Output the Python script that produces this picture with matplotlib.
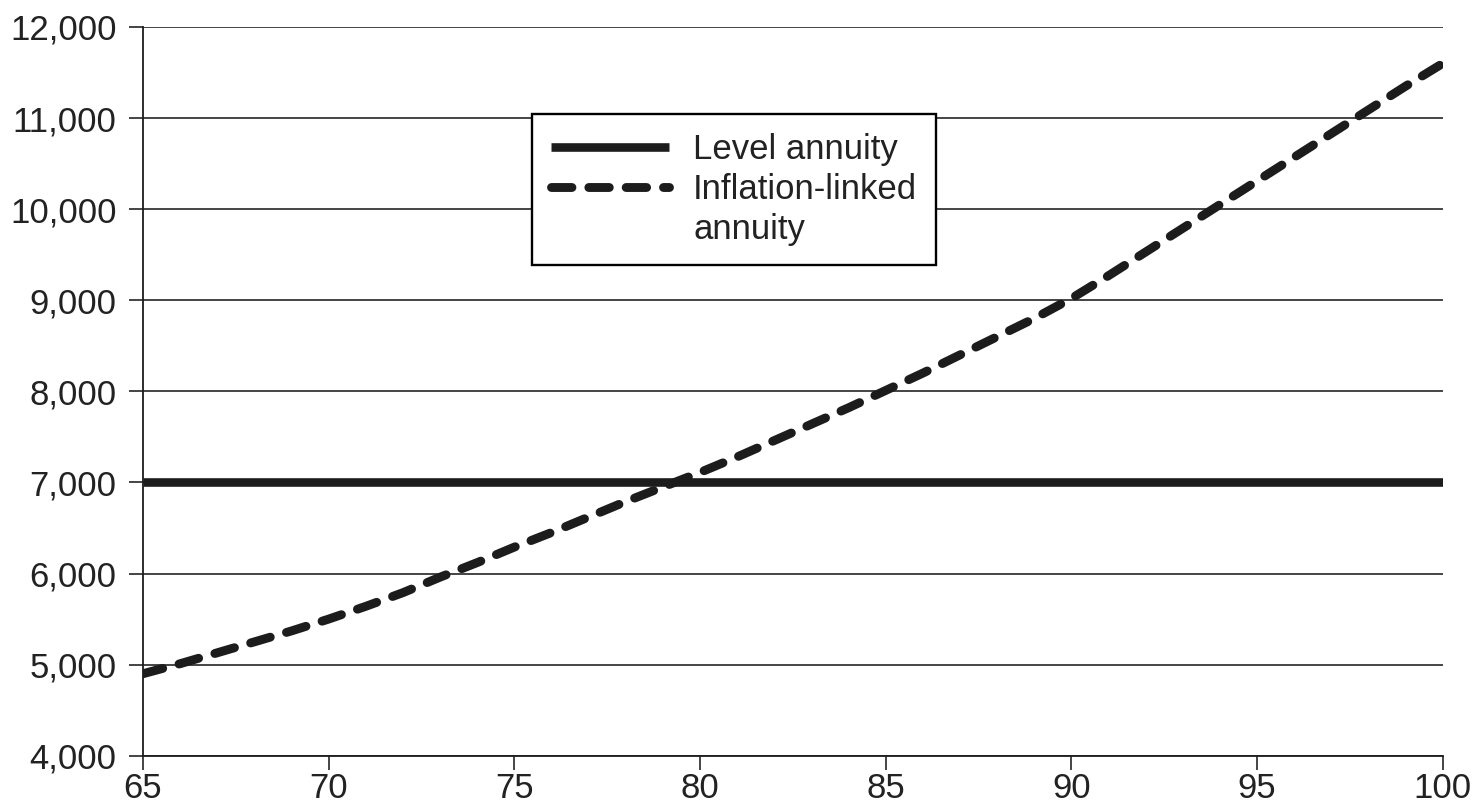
import matplotlib
matplotlib.use("Agg")
import matplotlib.pyplot as plt
from matplotlib.lines import Line2D
from matplotlib.ticker import FuncFormatter

# Ages and annual income
ages = list(range(65, 101))
level_income = [7000] * len(ages)
inflation_linked = [4900, 5010, 5130, 5250, 5370, 5500, 5640, 5790, 5960, 6120,
                    6290, 6450, 6620, 6790, 6950, 7110, 7280, 7460, 7640, 7820,
                    8010, 8200, 8400, 8600, 8800, 9020, 9270, 9530, 9790, 10050,
                    10310, 10570, 10830, 11090, 11350, 11600]
x_ticks = [65, 70, 75, 80, 85, 90, 95, 100]
y_ticks = list(range(4000, 12001, 1000))
labels = ["Level annuity", "Inflation-linked", "annuity"]

plt.rcParams['font.family'] = ['Liberation Sans', 'DejaVu Sans']
ink = '#1c1c1c'

fig = plt.figure(figsize=(14.77, 8.08), dpi=100)
ax = fig.add_axes([0.0968, 0.0647, 0.880, 0.9019])

ax.grid(axis='y', color=ink, linewidth=1.15)
ax.set_axisbelow(True)

level, = ax.plot(ages, level_income, color=ink, linewidth=6.2, solid_capstyle='butt', zorder=3)
infl, = ax.plot(ages, inflation_linked, color=ink, linewidth=6.4,
                dashes=(2.3, 1.9), dash_capstyle='round', zorder=4)

ax.set_xlim(65, 100)
ax.set_ylim(4000, 12000)
ax.set_xticks(x_ticks)
ax.set_yticks(y_ticks)
ax.yaxis.set_major_formatter(FuncFormatter(lambda v, p: f'{v:,.0f}'))

for side in ('top', 'right'):
    ax.spines[side].set_visible(False)
for side in ('left', 'bottom'):
    ax.spines[side].set_color(ink)
    ax.spines[side].set_linewidth(1.3)

ax.tick_params(axis='both', direction='out', length=10, width=1.15, color=ink,
               labelsize=25, labelcolor='#222222')
ax.tick_params(axis='y', pad=9)
ax.tick_params(axis='x', pad=2)

blank = Line2D([], [], linewidth=0, alpha=0)
leg = fig.legend([level, infl, blank], labels,
                 loc='upper left', bbox_to_anchor=(0.360, 0.859),
                 fontsize=25, frameon=True, fancybox=False, framealpha=1,
                 edgecolor='black', handlelength=3.4, handletextpad=0.7,
                 borderpad=0.55, labelspacing=0.2, borderaxespad=0)
leg.get_frame().set_linewidth(1.7)
for t in leg.get_texts():
    t.set_color('#222222')

fig.savefig('out.png', dpi=100)
